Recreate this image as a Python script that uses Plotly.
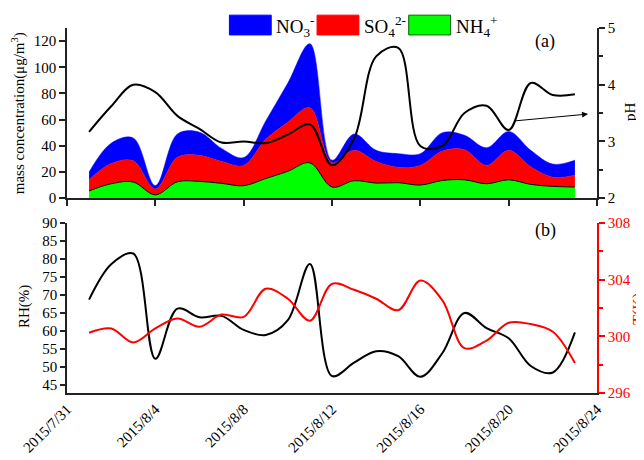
import plotly.graph_objects as go
import pandas as pd

dates = pd.date_range("2015-08-01", "2015-08-23", freq="D")

nh4 = [5.5, 11, 12.3, 2.5, 12.5, 12.8, 11.3, 9.5, 15, 20.5, 27, 8.5, 13.3, 11.5, 11.8, 10, 13.5, 14, 11, 14, 10.5, 9, 8.5]
so4 = [8.5, 15.4, 16.2, 4.5, 18.7, 19.9, 16.7, 15.5, 30, 37.5, 42, 18.5, 23.2, 16.5, 11.7, 15, 22.5, 23, 14, 22.5, 13.5, 7, 9]
no3 = [6, 15.6, 17.5, 2.6, 17.8, 17.7, 10, 6, 14, 30, 49, 2, 12.5, 8.5, 10.5, 9, 14, 11, 13.5, 14.5, 12.5, 10, 11.5]
ph = [3.17, 3.62, 4.0, 3.87, 3.45, 3.22, 2.98, 3.0, 2.97, 3.12, 3.3, 2.58, 3.05, 4.5, 4.65, 2.92, 2.92, 3.5, 3.63, 3.2, 4.03, 3.82, 3.83]
rh = [68.7, 78.5, 81.5, 52.3, 66.2, 63.8, 64.2, 60.3, 58.9, 63, 78.6, 47.5, 51.2, 54.4, 53, 47.3, 53.9, 65, 60.8, 58, 50.3, 48.5, 59.6]
temp = [300.25, 300.55, 299.56, 300.55, 301.25, 300.67, 301.53, 301.37, 303.35, 302.65, 301.1, 303.7, 303.28, 302.65, 301.84, 303.93, 302.53, 299.16, 299.7, 300.95, 300.86, 300.32, 298.11]

tick_vals = ["2015-07-31", "2015-08-04", "2015-08-08", "2015-08-12", "2015-08-16", "2015-08-20", "2015-08-24"]
tick_text = ["2015/7/31", "2015/8/4", "2015/8/8", "2015/8/12", "2015/8/16", "2015/8/20", "2015/8/24"]

FONT = "Liberation Serif"
fig = go.Figure()

fig.add_trace(go.Scatter(x=dates, y=nh4, stackgroup="a", mode="lines",
                         line=dict(shape="spline", color="black", width=1),
                         fillcolor="#00FF00", name="NH4+", xaxis="x", yaxis="y"))
fig.add_trace(go.Scatter(x=dates, y=so4, stackgroup="a", mode="lines",
                         line=dict(shape="spline", color="#FF0000", width=0.5),
                         fillcolor="#FF0000", name="SO4", xaxis="x", yaxis="y"))
fig.add_trace(go.Scatter(x=dates, y=no3, stackgroup="a", mode="lines",
                         line=dict(shape="spline", color="#0000FF", width=0.5),
                         fillcolor="#0000FF", name="NO3", xaxis="x", yaxis="y"))
fig.add_trace(go.Scatter(x=dates, y=ph, mode="lines",
                         line=dict(shape="spline", color="black", width=2),
                         name="pH", xaxis="x", yaxis="y2"))
fig.add_trace(go.Scatter(x=dates, y=rh, mode="lines",
                         line=dict(shape="spline", color="black", width=2),
                         name="RH", xaxis="x2", yaxis="y3"))
fig.add_trace(go.Scatter(x=dates, y=temp, mode="lines",
                         line=dict(shape="spline", color="#FF0000", width=2),
                         name="T", xaxis="x2", yaxis="y4"))

xr = ["2015-07-31", "2015-08-24"]
tickfont = dict(family=FONT, size=15, color="black")
common_x = dict(type="date", range=xr, tickvals=tick_vals, showgrid=False, zeroline=False,
                showline=True, linecolor="#222", linewidth=1.5, mirror=False)

top_dom = [0.5339, 1.0]
bot_dom = [0.0, 0.4661]

# page body has an 8px margin, so offsets are compensated here
fig.update_layout(
    width=644, height=460,
    margin=dict(l=57, r=55, t=20, b=71),
    paper_bgcolor="white", plot_bgcolor="white",
    showlegend=False,
    font=dict(family=FONT, color="black"),
    xaxis=dict(**common_x, anchor="y", domain=[0, 1], showticklabels=False,
               ticks="outside", ticklen=6, tickwidth=1.5, tickcolor="#222"),
    xaxis2=dict(**common_x, anchor="y3", domain=[0, 1], ticktext=tick_text,
                tickangle=-45, tickfont=tickfont, ticks=""),
    yaxis=dict(domain=top_dom, anchor="x", range=[0, 130], tickvals=[0, 20, 40, 60, 80, 100, 120],
               showgrid=False, zeroline=False, showline=True, linecolor="#222", linewidth=1.5,
               ticks="outside", ticklen=6, tickwidth=1.5, tickcolor="#222", tickfont=tickfont),
    yaxis2=dict(domain=top_dom, anchor="x", overlaying="y", side="right", range=[2, 5],
                tickvals=[2, 3, 4, 5], showgrid=False, zeroline=False, showline=True,
                linecolor="#222", linewidth=1.5, ticks="outside", ticklen=6, tickwidth=1.5,
                tickcolor="#222", tickfont=tickfont,
                minor=dict(tickvals=[2.5, 3.5, 4.5], ticks="outside", ticklen=4, tickwidth=1.5, tickcolor="#222")),
    yaxis3=dict(domain=bot_dom, anchor="x2", range=[42.8, 90],
                tickvals=[45, 50, 55, 60, 65, 70, 75, 80, 85, 90],
                showgrid=False, zeroline=False, showline=True, linecolor="#222", linewidth=1.5,
                ticks="outside", ticklen=5, tickwidth=1.5, tickcolor="#222", tickfont=tickfont),
    yaxis4=dict(domain=bot_dom, anchor="x2", overlaying="y3", side="right", range=[296, 308],
                tickvals=[296, 300, 304, 308], showgrid=False, zeroline=False, showline=True,
                linecolor="#FF0000", linewidth=1.5, ticks="outside", ticklen=6, tickwidth=1.5,
                tickcolor="#FF0000", tickfont=dict(family=FONT, size=15, color="#FF0000"),
                minor=dict(tickvals=[298, 302, 306], ticks="outside", ticklen=4, tickwidth=1.5, tickcolor="#FF0000")),
)

def px(x):
    return (x - 65) / 532.0

def py(y):
    return (397 - y) / 369.0

# legend boxes
legend_items = [
    (228, "#0000FF", "#0000FF", "NO<sub>3</sub><sup>-</sup>"),
    (316, "#FF0000", "#FF0000", "SO<sub>4</sub><sup>2-</sup>"),
    (408, "#00FF00", "#006400", "NH<sub>4</sub><sup>+</sup>"),
]
for x0, fc, lc, label in legend_items:
    fig.add_shape(type="rect", xref="paper", yref="paper",
                  x0=px(x0), x1=px(x0 + 42), y0=py(35), y1=py(15),
                  fillcolor=fc, line=dict(color=lc, width=1))
    fig.add_annotation(xref="paper", yref="paper", x=px(x0 + 45), y=py(26),
                       text=label, showarrow=False, xanchor="left", yanchor="middle",
                       font=dict(family=FONT, size=19, color="black"))

anns = [
    dict(x=px(545), y=py(42), text="(a)", font=dict(family=FONT, size=18, color="black")),
    dict(x=px(545), y=py(233), text="(b)", font=dict(family=FONT, size=18, color="black")),
    dict(x=px(16), y=py(114), text="mass concentration(μg/m<sup>3</sup>)", textangle=-90,
         font=dict(family=FONT, size=15, color="black")),
    dict(x=px(630), y=py(112), text="pH", textangle=-90, font=dict(family=FONT, size=15, color="black")),
    dict(x=px(23), y=py(310), text="RH(%)", textangle=-90, font=dict(family=FONT, size=15, color="black")),
    dict(x=px(639), y=py(312), text="T(K)", textangle=-90, font=dict(family=FONT, size=16, color="#FF0000")),
]
for a in anns:
    fig.add_annotation(xref="paper", yref="paper", showarrow=False,
                       xanchor="center", yanchor="middle", **a)

# arrow pointing to pH axis
fig.add_annotation(xref="paper", yref="paper", x=px(588), y=py(115), ax=-75, ay=7,
                   showarrow=True, arrowhead=2, arrowsize=1.2, arrowwidth=1, arrowcolor="black", text="")

fig.write_html("out.html")
